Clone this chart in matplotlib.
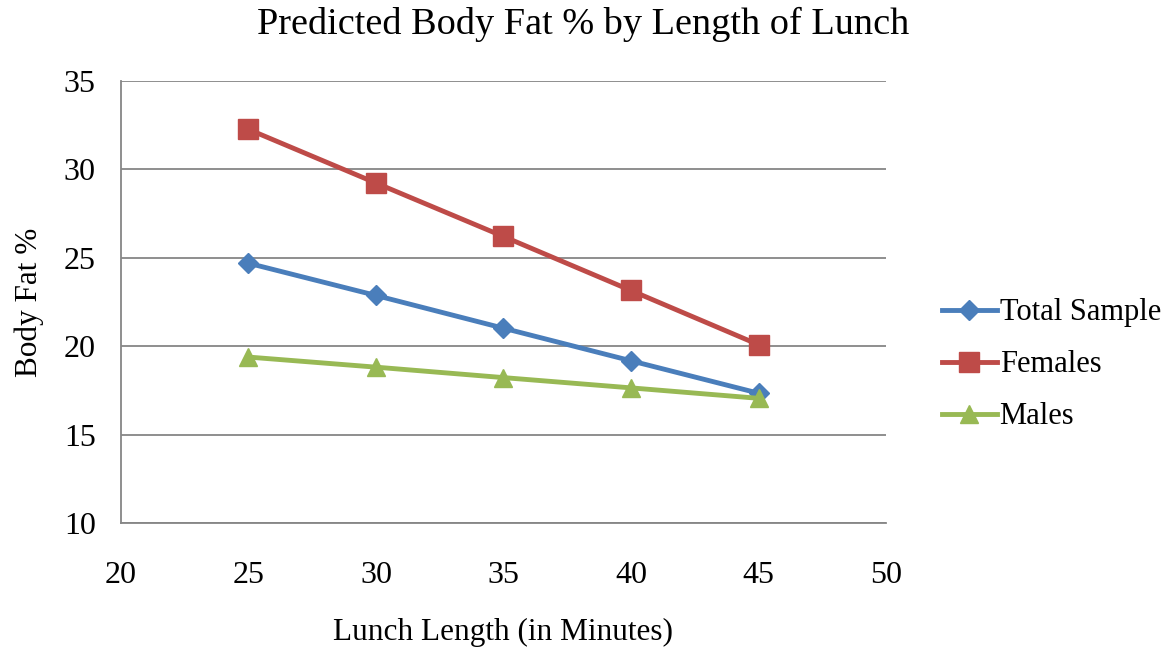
import matplotlib
matplotlib.use("Agg")
import matplotlib.pyplot as plt

plt.rcParams['font.family'] = ['Liberation Serif', 'DejaVu Serif']

minutes = [25, 30, 35, 40, 45]
total_sample = [24.69, 22.87, 21.02, 19.18, 17.35]
females = [32.25, 29.22, 26.2, 23.15, 20.09]
males = [19.39, 18.82, 18.23, 17.65, 17.06]

x_ticks = [20, 25, 30, 35, 40, 45, 50]
y_ticks = [10, 15, 20, 25, 30, 35]

fig = plt.figure(figsize=(11.74, 6.48), dpi=100)
ax = fig.add_axes([0.103, 0.1924, 0.6517, 0.6831])

ax.plot(minutes, total_sample, color='#4a7ebb', lw=3.5, marker='D', ms=10,
        label='Total Sample', zorder=3)
ax.plot(minutes, females, color='#be4b48', lw=3.5, marker='s', ms=14,
        label='Females', zorder=3)
ax.plot(minutes, males, color='#98b954', lw=3.5, marker='^', ms=13,
        label='Males', zorder=3)

ax.set_xlim(20, 50)
ax.set_ylim(10, 35)
ax.set_xticks(x_ticks)
ax.set_yticks(y_ticks)
ax.tick_params(axis='both', length=0, labelsize=23)
ax.tick_params(axis='x', pad=27)
ax.tick_params(axis='y', pad=18)
ax.yaxis.grid(True, color='#868686', lw=1.3)
ax.set_axisbelow(True)
for side in ['top', 'right']:
    ax.spines[side].set_visible(False)
for side in ['left', 'bottom']:
    ax.spines[side].set_color('#868686')
    ax.spines[side].set_linewidth(1.3)

ax.set_xlabel('Lunch Length (in Minutes)', fontsize=22.5, labelpad=20)
ax.set_ylabel('Body Fat %', fontsize=22.5, labelpad=14)
fig.suptitle('Predicted Body Fat % by Length of Lunch', fontsize=27.5, x=0.497, y=0.99)

ax.legend(loc='center left', bbox_to_anchor=(0.802, 0.437), bbox_transform=fig.transFigure,
          frameon=False, fontsize=22, handlelength=1.8, handletextpad=0.1,
          labelspacing=0.75, borderaxespad=0, borderpad=0)

fig.savefig('out.png', dpi=100)
